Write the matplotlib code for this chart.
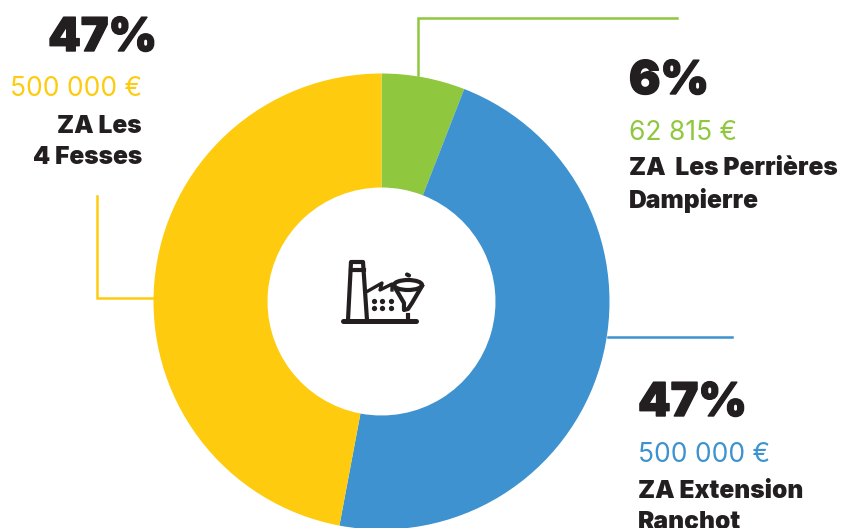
import matplotlib
matplotlib.use("Agg")
import matplotlib.pyplot as plt
from matplotlib.patches import Ellipse
import matplotlib.patheffects as pe

amounts = [62815, 500000, 500000]
colors = ["#8FC73E", "#3D92CF", "#FECB0E"]
dark = "#231F20"

percents = ["6%", "47%", "47%"]
euros = ["62 815 €", "500 000 €", "500 000 €"]
names = ["ZA  Les Perrières\nDampierre", "ZA Extension\nRanchot", "ZA Les\n4 Fesses"]

W, H = 855, 528

fig = plt.figure(figsize=(W / 100, H / 100), dpi=100)
ax = fig.add_axes([0, 0, 1, 1])

# y axis is flipped, so counterclock=True runs clockwise on screen
ax.pie(amounts, colors=colors, startangle=-90, counterclock=True,
       center=(381.5, 301.5), radius=228, frame=True,
       wedgeprops=dict(width=114, linewidth=0))
ax.set_xlim(0, W)
ax.set_ylim(H, 0)
ax.set_aspect("equal")
ax.axis("off")

# leader lines
ax.plot([418, 418, 677], [75, 18, 18], color=colors[0], lw=1.8, solid_joinstyle="miter")
ax.plot([608, 732], [337, 337], color=colors[1], lw=1.8)
ax.plot([97, 97, 155], [196, 298, 298], color=colors[2], lw=1.8, solid_joinstyle="miter")

font = ["Inter", "DejaVu Sans"]


def label(x, y_pct, y_eur, y_name, i, ha="left", x_pct=None):
    if x_pct is None:
        x_pct = x
    t = ax.text(x_pct, y_pct, percents[i], fontsize=33.5, fontweight="black", family=font,
                color=dark, ha=ha, va="center")
    t.set_path_effects([pe.withStroke(linewidth=1, foreground=dark)])
    ax.text(x, y_eur, euros[i], fontsize=19, family=font, color=colors[i],
            ha=ha, va="center")
    ax.text(x, y_name, names[i], fontsize=17.7, fontweight="black", family=font,
            color=dark, ha=ha, va="center", linespacing=1.4, multialignment=ha)


label(629, 82, 133, 185, 0)
label(638, 404, 455, 507, 1)
label(142, 39, 89, 142, 2, ha="right", x_pct=157)

# factory icon in the hole
lw = 3
ax.plot([343, 416], [320.5, 320.5], color=dark, lw=lw + 0.6, solid_capstyle="round")
ax.plot([348, 351, 363, 367], [320, 262, 262, 320], color=dark, lw=lw, solid_joinstyle="round")
ax.plot([350.5, 363.5], [270, 270], color=dark, lw=lw)
ax.plot([368, 382, 380, 392, 392], [291, 283, 290, 284, 290], color=dark, lw=lw * 0.8)
for yy in [301, 308]:
    for xx in [374, 382, 391]:
        ax.plot([xx], [yy], "o", color=dark, ms=3.8, mew=0)
ax.add_patch(Ellipse((408, 285), 28, 10, fill=False, ec=dark, lw=lw))
ax.plot([394, 404, 404, 408, 412, 422], [286, 303, 310, 309, 303, 286], color=dark, lw=lw)
ax.plot([408, 408], [315, 320], color=dark, lw=lw)
ax.plot([407, 409], [274.5, 275.5], color=dark, lw=lw, solid_capstyle="round")

fig.savefig("out.png", dpi=100, facecolor="white")
